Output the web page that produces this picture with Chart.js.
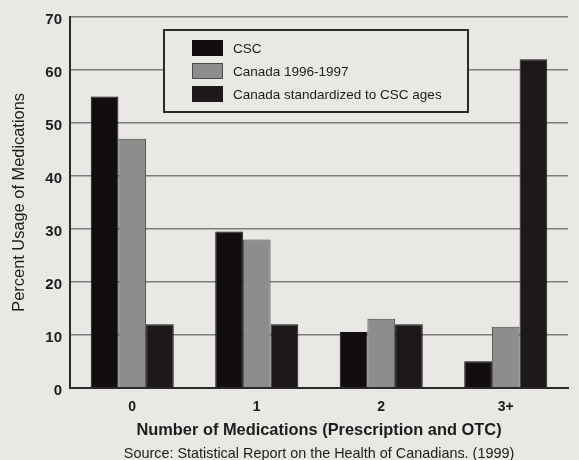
<!DOCTYPE html>
<html>
<head>
<meta charset="utf-8">
<script src="https://cdn.jsdelivr.net/npm/chart.js@4.4.0/dist/chart.umd.min.js"></script>
<style>
  html, body { margin: 0; padding: 0; background: #e9e8e5; }
  canvas { display: block; }
</style>
</head>
<body>
<canvas id="chart" width="579" height="460"></canvas>
<script>
// number of medications taken
const categories = ["0", "1", "2", "3+"];
const seriesNames = ["CSC", "Canada 1996-1997", "Canada standardized to CSC ages"];
const cscValues = [55, 29.5, 10.5, 5];
const canadaValues = [47, 28, 13, 11.5];
const standardizedValues = [12, 12, 12, 62];
const yTicks = [0, 10, 20, 30, 40, 50, 60, 70];

const bg = "#e9e8e5";
const ink = "#1e1c1c";
const fontFamily = "'Liberation Sans', Arial, sans-serif";

Chart.defaults.font.family = fontFamily;
Chart.defaults.color = ink;

// legend drawn as a framed box sitting inside the plot
const boxedLegend = {
  id: "boxedLegend",
  afterDatasetsDraw(chart) {
    const ctx = chart.ctx;
    const x = 164, y = 30, w = 304, h = 82;
    ctx.save();
    ctx.fillStyle = bg;
    ctx.fillRect(x, y, w, h);
    ctx.strokeStyle = "#2a2828";
    ctx.lineWidth = 2;
    ctx.strokeRect(x, y, w, h);
    ctx.font = "13.5px " + fontFamily;
    ctx.textBaseline = "middle";
    chart.data.datasets.forEach((ds, i) => {
      const rowY = 48 + i * 23;
      ctx.fillStyle = ds.backgroundColor;
      ctx.fillRect(192, rowY - 8, 31, 16);
      ctx.strokeStyle = ds.borderColor;
      ctx.lineWidth = 1;
      ctx.strokeRect(192.5, rowY - 7.5, 30, 15);
      ctx.fillStyle = ink;
      ctx.fillText(ds.label, 233, rowY + 1);
    });
    ctx.restore();
  }
};

new Chart(document.getElementById("chart"), {
  type: "bar",
  data: {
    labels: categories,
    datasets: [
      { label: seriesNames[0], data: cscValues, backgroundColor: "#120e0f", borderColor: "#120e0f" },
      { label: seriesNames[1], data: canadaValues, backgroundColor: "#8d8d8b", borderColor: "#4a4a4a" },
      { label: seriesNames[2], data: standardizedValues, backgroundColor: "#1d181a", borderColor: "#1d181a" }
    ]
  },
  options: {
    responsive: false,
    animation: false,
    devicePixelRatio: 1,
    layout: { padding: { top: 17, right: 11, left: 0, bottom: -3 } },
    datasets: { bar: { categoryPercentage: 0.667, barPercentage: 1, borderWidth: 1 } },
    plugins: {
      legend: { display: false },
      tooltip: { enabled: false },
      title: {
        display: true,
        position: "bottom",
        fullSize: false,
        text: "Source: Statistical Report on the Health of Canadians. (1999)",
        font: { size: 14.4, weight: "normal" },
        color: ink,
        padding: { top: 5, bottom: 0 }
      }
    },
    scales: {
      x: {
        afterFit(scale) { scale.height = 53; },
        grid: { display: false, drawTicks: false },
        border: { color: "#2a2828", width: 2 },
        ticks: { padding: 11, color: ink, font: { size: 14, weight: "bold" } },
        title: {
          display: true,
          text: "Number of Medications (Prescription and OTC)",
          color: ink,
          font: { size: 16.4, weight: "bold" },
          padding: { top: 0, bottom: 0 }
        }
      },
      y: {
        min: 0,
        max: 70,
        afterFit(scale) { scale.width = 70; },
        afterBuildTicks(scale) { scale.ticks = yTicks.map(v => ({ value: v })); },
        grid: { color: "#7d7d7b", lineWidth: 1.5, drawTicks: false },
        border: { color: "#2a2828", width: 2 },
        ticks: { padding: 8, labelOffset: 3, color: ink, font: { size: 15, weight: "bold" } },
        title: {
          display: true,
          text: "Percent Usage of Medications",
          color: ink,
          font: { size: 16.4 },
          padding: { top: 10, bottom: 0 }
        }
      }
    }
  },
  plugins: [boxedLegend]
});
</script>
</body>
</html>
